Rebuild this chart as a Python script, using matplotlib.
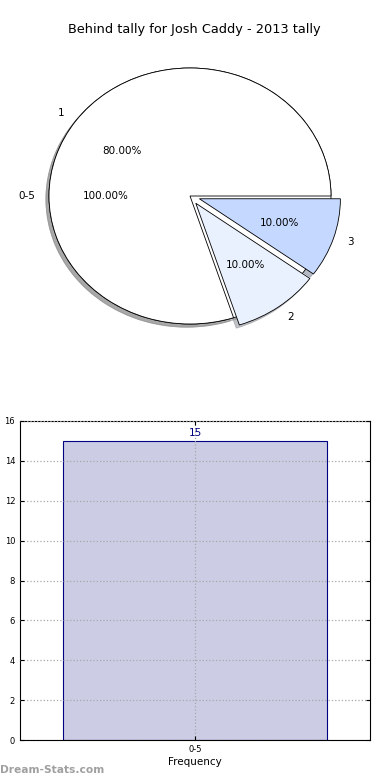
"""Behind tally pie + frequency bar for Josh Caddy, 2013."""

import matplotlib

matplotlib.use("Agg")
import matplotlib.pyplot as plt

# data
title = "Behind tally for Josh Caddy - 2013 tally"
range_labels = ["0-5"]
range_counts = [15]
tally_labels = ["1", "2", "3"]
tally_counts = [8, 1, 1]
tally_colors = ["#ffffff", "#eaf1fe", "#c5d8ff"]
tally_explode = [0, 0.07, 0.07]

fig = plt.figure(figsize=(3.9, 7.8), dpi=100)

shadow = dict(ox=-0.016, oy=-0.018, shade=0.45)
edge = dict(edgecolor="black", linewidth=0.6)

# pie: centre (190, 196) px, radius ~141 px wide, ~128 px tall
ax = fig.add_axes([20 / 390, 1 - 331 / 780, 340 / 390, 270 / 780])
ax.pie(range_counts, labels=range_labels, colors=["white"], autopct="%.2f%%",
       shadow=shadow, wedgeprops=edge, textprops=dict(fontsize=7.5))
ax.pie(tally_counts, labels=tally_labels, colors=tally_colors,
       explode=tally_explode, autopct="%.2f%%", shadow=shadow,
       wedgeprops=edge, textprops=dict(fontsize=7.5))
ax.set_aspect("auto")
ax.set_xlim(-170 / 141, 170 / 141)
ax.set_ylim(-135 / 128, 135 / 128)
ax.axis("off")
fig.text(194 / 390, 1 - 30 / 780, title, ha="center", va="center", fontsize=9.3)

# bar chart
bx = fig.add_axes([20 / 390, 1 - 740 / 780, 350 / 390, 319 / 780])
bars = bx.bar(range(len(range_labels)), range_counts, width=0.8,
              facecolor=(0, 0, 0.5, 0.2), edgecolor="navy", linewidth=0.8)
for b, v in zip(bars, range_counts):
    bx.text(b.get_x() + b.get_width() / 2, v + 0.15, str(v), ha="center",
            va="bottom", color="navy", fontsize=7.5)
bx.set_xlim(-0.53, 0.53)
bx.set_ylim(0, 16)
bx.set_yticks(range(0, 17, 2))
bx.set_xticks(range(len(range_labels)))
bx.set_xticklabels(range_labels)
bx.tick_params(labelsize=6, direction="in", top=True, right=True, length=3)
bx.grid(True, linestyle=":", color="#a8a8a8", linewidth=0.9)
bx.set_axisbelow(False)
bx.set_xlabel("Frequency", fontsize=7.5, labelpad=2)
bx.set_ylabel("Stat Total Value", fontsize=7.5)
bx.yaxis.set_label_coords(-0.055, 0.42)

fig.text(0, 1 - 770 / 780, "Dream-Stats.com", ha="left", va="center",
         fontsize=7.7, color="#a0a0a0", fontweight="bold")

fig.savefig("out.png", dpi=100)
